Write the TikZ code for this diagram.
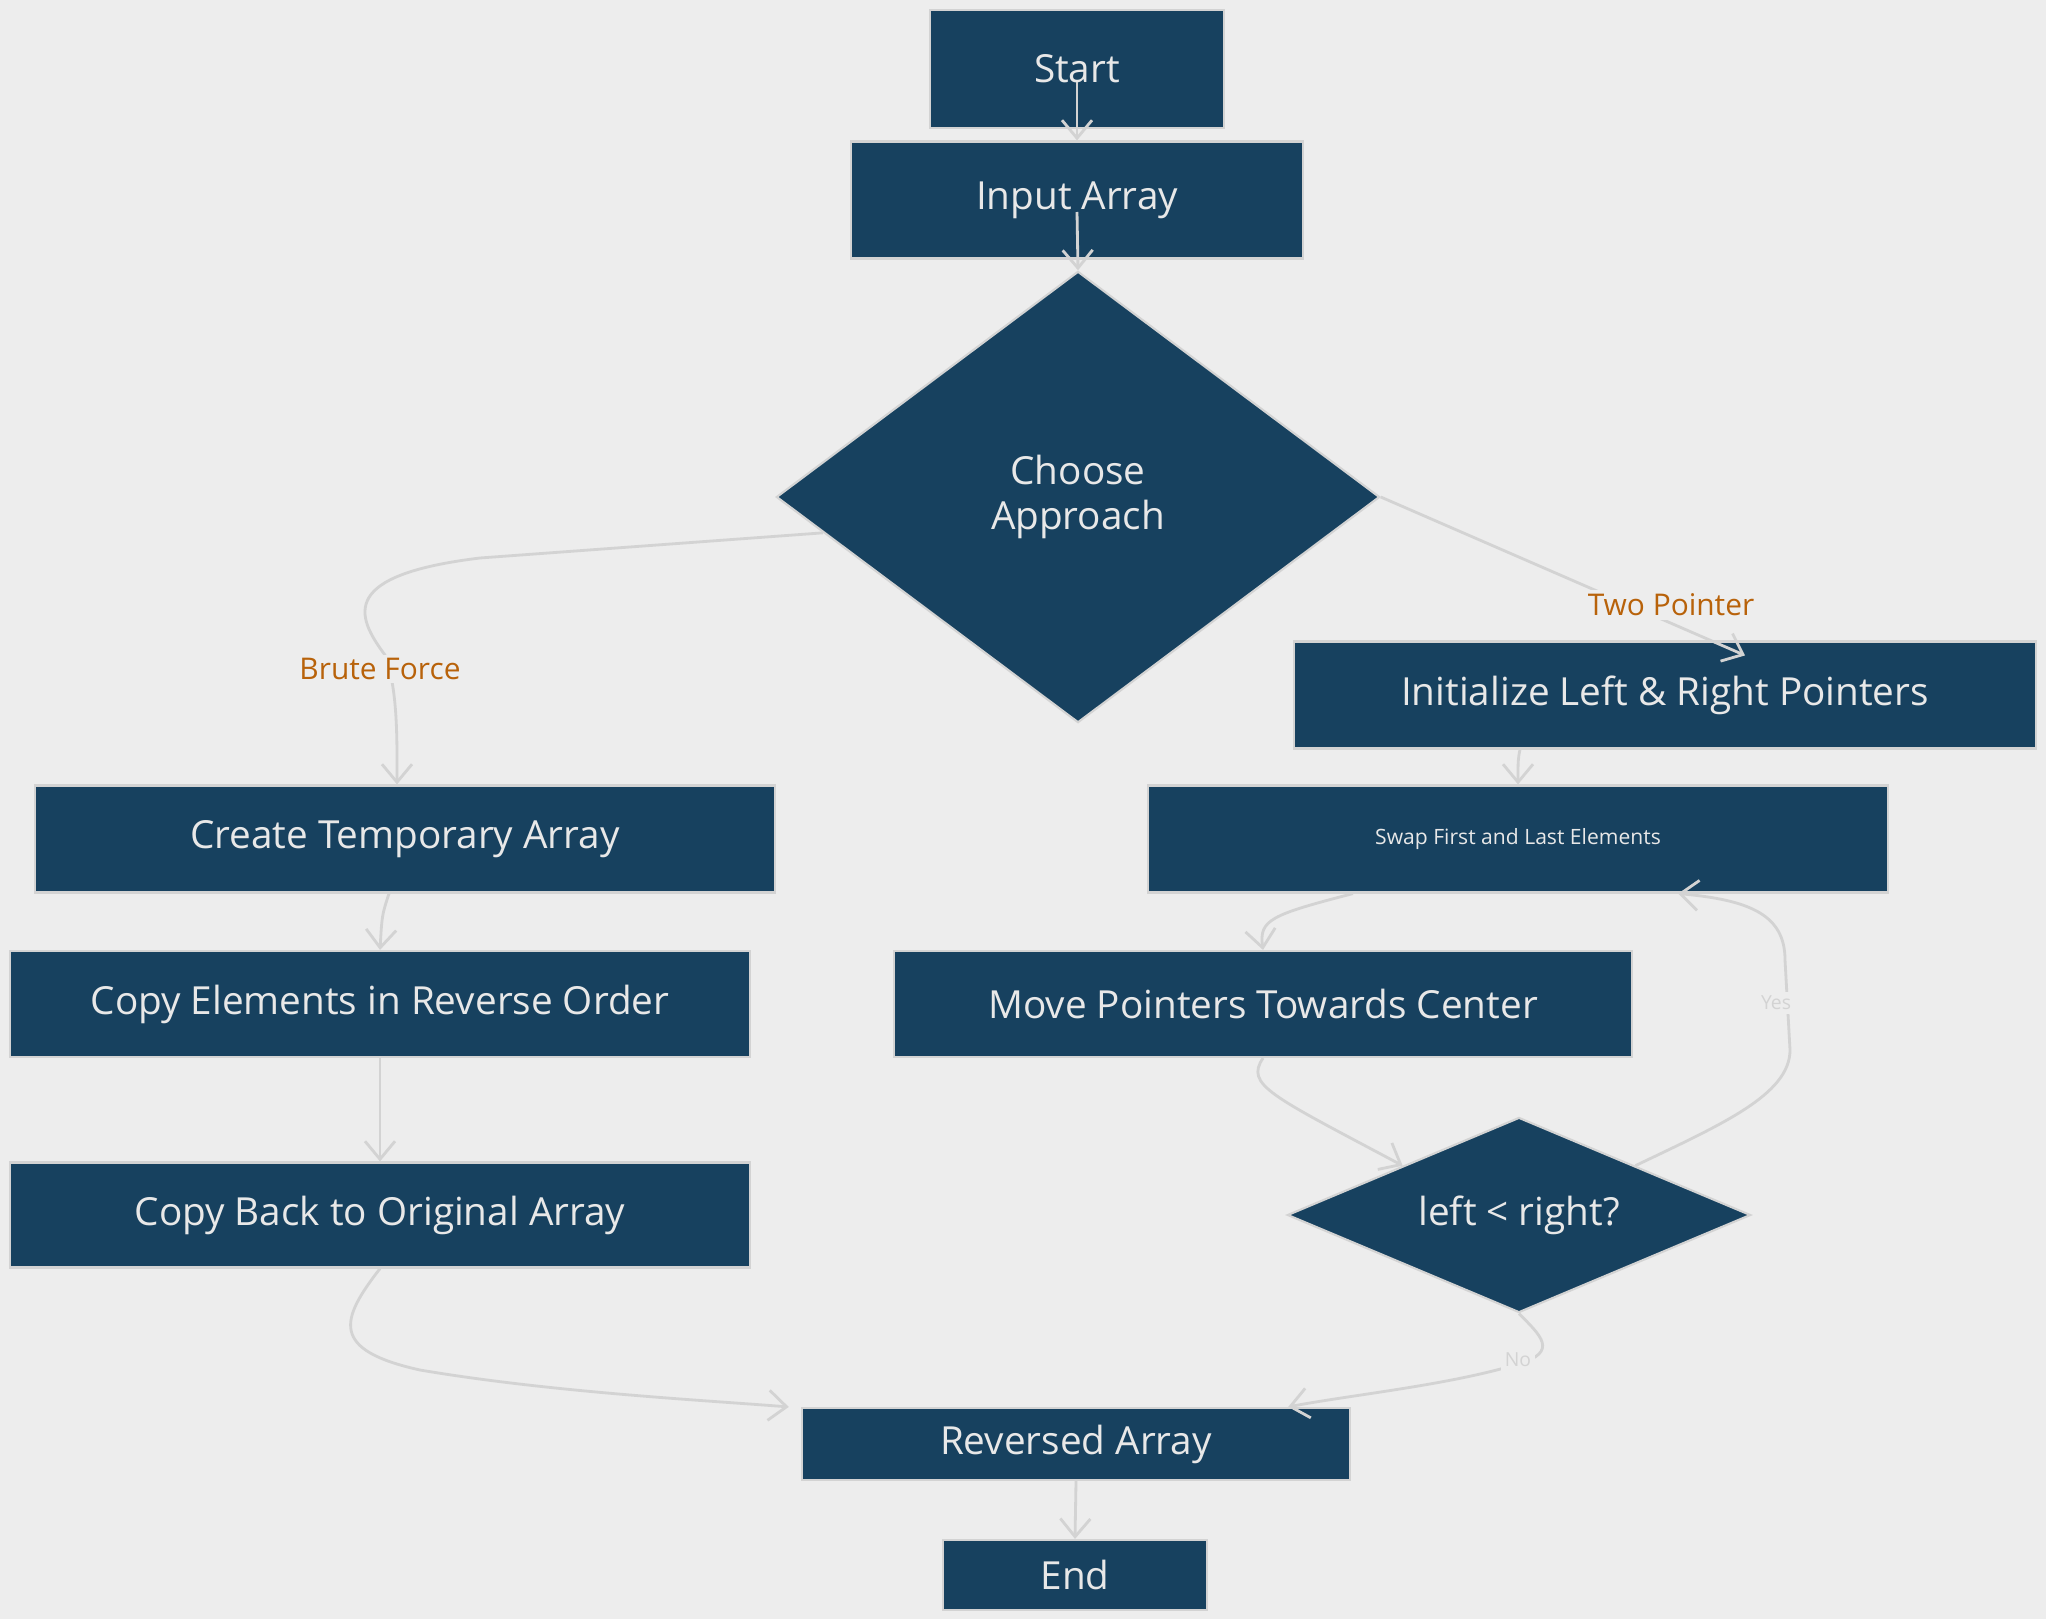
\documentclass[tikz,border=0pt]{standalone}
\usepackage{fontspec}
\setmainfont{Open Sans}
\usetikzlibrary{shapes.geometric,arrows.meta}

\definecolor{canvasgray}{HTML}{EDEDED}
\definecolor{boxblue}{HTML}{17415F}
\definecolor{linegray}{HTML}{D3D3D3}
\definecolor{boxtext}{HTML}{E8E8E8}
\definecolor{branchorange}{HTML}{B8620A}

\tikzset{
  box/.style={draw=linegray, line width=0.6pt, fill=boxblue, text=boxtext,
    minimum height=1.07cm, inner sep=0pt, font=\fontsize{11}{13}\selectfont},
  decision/.style={box, diamond, align=center},
  flow/.style={draw=linegray, line width=0.8pt,
    -{Straight Barb[length=1.8mm,width=3mm]}},
  branch/.style={text=branchorange, fill=canvasgray, inner sep=1pt,
    font=\fontsize{8.5}{10}\selectfont},
  answer/.style={text=linegray, fill=canvasgray, inner sep=1pt,
    font=\fontsize{5.5}{7}\selectfont}
}

\begin{document}
\begin{tikzpicture}[x=0.01cm,y=-0.01cm]
\fill[canvasgray] (0,0) rectangle (2046,1619);
\useasboundingbox (0,0) rectangle (2046,1619);

% main column
\node[box, minimum width=2.94cm, minimum height=1.18cm] (start) at (1077,69) {Start};
\node[box, minimum width=4.51cm, minimum height=1.17cm] (input) at (1077,200) {Input Array};
\node[decision, minimum width=6.03cm, minimum height=4.51cm] (choose) at (1078,497) {Choose\\Approach};

% two pointer branch
\node[box, minimum width=7.41cm] (init) at (1665,695) {Initialize Left \& Right Pointers};
\node[box, minimum width=7.40cm, font=\fontsize{6}{7}\selectfont] (swap) at (1518,839) {Swap First and Last Elements};
\node[box, minimum width=7.38cm, minimum height=1.06cm] (move) at (1263,1004) {Move Pointers Towards Center};
\node[decision, aspect=2.6, minimum width=4.63cm, minimum height=1.95cm] (check) at (1519,1215) {left < right?};

% brute force branch
\node[box, minimum width=7.40cm] (temp) at (405,839) {Create Temporary Array};
\node[box, minimum width=7.39cm, minimum height=1.06cm] (copyrev) at (380,1004) {Copy Elements in Reverse Order};
\node[box, minimum width=7.39cm, minimum height=1.05cm] (copyback) at (380,1215) {Copy Back to Original Array};

\node[box, minimum width=5.48cm, minimum height=0.72cm] (result) at (1076,1444) {Reversed Array};
\node[box, minimum width=2.64cm, minimum height=0.70cm] (end) at (1075,1575) {End};

% connectors
\draw[flow] ([yshift=-0.13cm]start.center) -- (input.north);
\draw[flow] ([yshift=-0.12cm]input.center) -- (choose.north);
\draw[flow] (choose.188) -- (480,558) .. controls (340,575) and (355,615) .. (385,655)
  .. controls (398,690) and (397,740) .. ([xshift=-0.08cm]temp.north);
\draw[flow] (choose.east) -- ([xshift=0.8cm,yshift=-0.15cm]init.north);
\draw[flow] ([xshift=-1.45cm]init.south) .. controls (1518,760) .. (swap.north);
\draw[flow] ([xshift=-1.65cm]swap.south) .. controls (1270,915) and (1259,920) .. (move.north);
\draw[flow] (move.south) .. controls (1245,1085) and (1270,1095) .. (check.north west);
\draw[flow] (check.north east) .. controls (1720,1125) and (1790,1095) .. (1790,1050)
  -- (1785,960) .. controls (1785,915) and (1750,900) .. ([xshift=1.6cm]swap.south);
\draw[flow] (check.south) .. controls (1540,1335) and (1560,1352) .. (1518,1364)
  .. controls (1450,1385) and (1350,1395) .. ([xshift=2.12cm]result.north);
\draw[flow] ([xshift=-0.16cm]temp.south) .. controls (382,915) .. (copyrev.north);
\draw[flow] (copyrev.south) -- (copyback.north);
\draw[flow] (copyback.south) .. controls (340,1320) and (330,1350) .. (420,1370)
  .. controls (550,1392) and (700,1400) .. ([xshift=-0.12cm]result.north west);
\draw[flow] (result.south) -- (end.north);

% branch labels
\node[branch] (brute) at (380,669) {Brute Force};
\node[branch] (twoptr) at (1671,605) {Two Pointer};
\node[answer] (yes) at (1776,1003) {Yes};
\node[answer] (no) at (1518,1360) {No};
\end{tikzpicture}
\end{document}
